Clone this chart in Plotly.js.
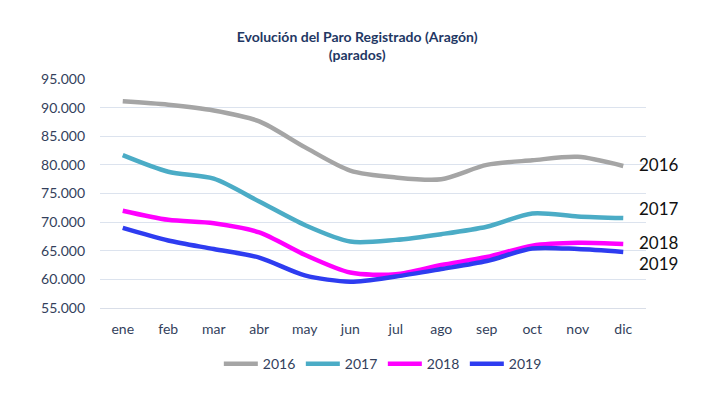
<!DOCTYPE html>
<html><head><meta charset="utf-8">
<script src="https://cdn.plot.ly/plotly-3.0.1.min.js"></script>
<style>html,body{margin:0;padding:0;background:#fff}#chart{width:720px;height:395px}</style>
</head><body><div id="chart"></div>
<script>
const months = ["ene","feb","mar","abr","may","jun","jul","ago","sep","oct","nov","dic"];
const years = ["2016","2017","2018","2019"];
const v2016 = [91100,90500,89500,87600,83100,79000,77800,77500,80000,80800,81400,79800];
const v2017 = [81700,78800,77600,73600,69500,66600,66900,67900,69200,71500,71000,70700];
const v2018 = [72000,70400,69800,68200,64300,61200,60900,62500,63900,65900,66400,66200];
const v2019 = [69000,66800,65300,63800,60700,59600,60500,61800,63200,65400,65300,64800];
const colors = ["#A5A5A5","#4BACC6","#FF00FF","#2E3CF0"];
const series = [v2016,v2017,v2018,v2019];
const FONT = 'Lato, "Open Sans", sans-serif';

const traces = series.map((s,i)=>({
  x: months, y: s, type:'scatter', mode:'lines', name: years[i],
  line:{color:colors[i], width:4.5, shape:'spline', smoothing:0.8}
}));

const annotations = series.map((s,i)=>({
  x: months[11], y: s[11], xref:'x', yref:'y', text: years[i],
  showarrow:false, xanchor:'left', xshift:14, yshift:[2,10,1,-12][i],
  font:{family:FONT, size:17, color:'#111'}
}));

const layout = {
  width:720, height:395,
  margin:{l:100, r:74, t:79, b:87},
  paper_bgcolor:'#fff', plot_bgcolor:'#fff',
  separators:',.',
  title:{text:'<b>Evolución del Paro Registrado (Aragón)<br>(parados)</b>',
    x:0.496, xanchor:'center', y:0.893, yanchor:'top',
    font:{family:FONT, size:14, color:'#1F3864'}},
  xaxis:{type:'category', range:[-0.5,11.5], showgrid:false, showline:true, linecolor:'#D9DEE8', linewidth:1,
    ticks:'', ticklabelstandoff:8, tickfont:{family:FONT, size:14, color:'#333F5C'}},
  yaxis:{range:[55000,95000], dtick:5000, tickformat:',d', showgrid:true, gridcolor:'#DCE3EE',
    zeroline:false, showline:false, ticks:'', ticklabelstandoff:14,
    tickfont:{family:FONT, size:14, color:'#333F5C'}},
  showlegend:true,
  legend:{orientation:'h', x:0.518, xanchor:'center', y:-0.175, yanchor:'top',
    font:{family:FONT, size:14, color:'#333F5C'}, itemwidth:34, entrywidth:33},
  annotations: annotations
};
Plotly.newPlot('chart', traces, layout, {displayModeBar:false, staticPlot:true});
</script></body></html>
